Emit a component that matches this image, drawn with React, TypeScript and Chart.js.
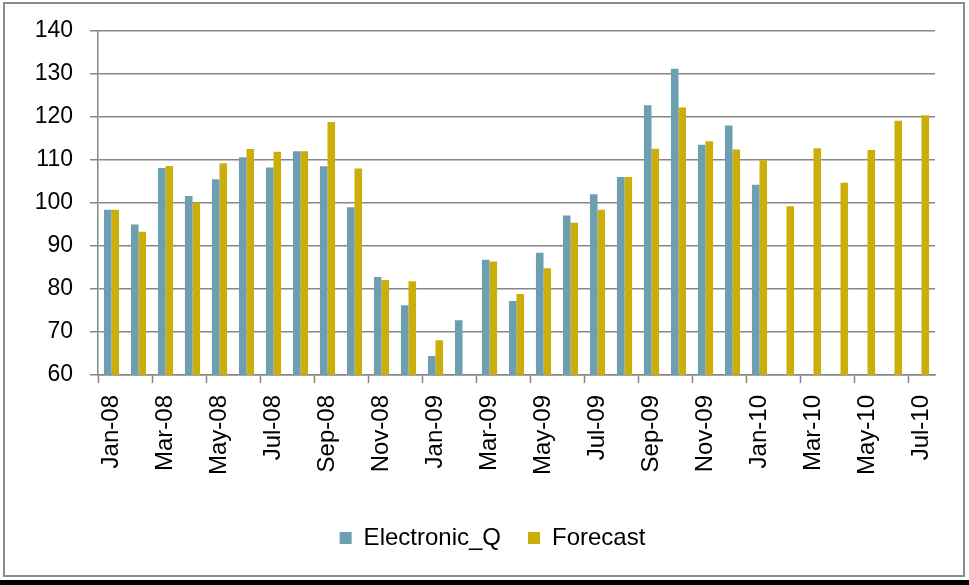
import React, { useEffect, useRef } from 'react';
import { Chart, registerables } from 'chart.js';
Chart.register(...registerables);

const months = [
  'Jan-08', 'Feb-08', 'Mar-08', 'Apr-08', 'May-08', 'Jun-08', 'Jul-08', 'Aug-08', 'Sep-08', 'Oct-08', 'Nov-08', 'Dec-08',
  'Jan-09', 'Feb-09', 'Mar-09', 'Apr-09', 'May-09', 'Jun-09', 'Jul-09', 'Aug-09', 'Sep-09', 'Oct-09', 'Nov-09', 'Dec-09',
  'Jan-10', 'Feb-10', 'Mar-10', 'Apr-10', 'May-10', 'Jun-10', 'Jul-10',
];

const electronicQ: (number | null)[] = [
  98.4, 95.0, 108.1, 101.6, 105.5, 110.6, 108.2, 112.0, 108.5, 99.0, 82.8, 76.2,
  64.4, 72.7, 86.8, 77.2, 88.4, 97.1, 102.0, 106.0, 122.7, 131.2, 113.5, 118.0,
  104.2, null, null, null, null, null, null,
];

const forecast: number[] = [
  98.4, 93.3, 108.6, 100.1, 109.2, 112.5, 111.9, 112.0, 118.8, 108.0, 82.1, 81.8,
  68.1, 59.6, 86.4, 78.8, 84.8, 95.4, 98.4, 106.0, 112.6, 122.2, 114.3, 112.4,
  109.9, 99.2, 112.7, 104.7, 112.3, 119.1, 120.4,
];

const yMin = 60;
const yMax = 140;
const yStep = 10;

const FONT = 'Liberation Sans';
const GRID = '#878787';

const legendShift = {
  id: 'legendShift',
  afterLayout(chart: any) {
    const lg = chart.legend;
    if (lg) {
      lg.left += 25;
      lg.right += 25;
    }
  },
};

export default function App() {
  const ref = useRef<HTMLCanvasElement>(null);
  useEffect(() => {
    if (!ref.current) return;
    const chart = new Chart(ref.current, {
      type: 'bar',
      data: {
        labels: months,
        datasets: [
          { label: 'Electronic_Q', data: electronicQ, backgroundColor: '#6E9FB0', borderWidth: 0 },
          { label: 'Forecast', data: forecast, backgroundColor: '#CCAE0B', borderWidth: 0 },
        ],
      },
      plugins: [legendShift],
      options: {
        responsive: false,
        animation: false,
        devicePixelRatio: 1,
        layout: { padding: { left: 0, right: 34, top: 30, bottom: 25 } },
        datasets: { bar: { barPercentage: 1, categoryPercentage: 0.56 } },
        plugins: {
          tooltip: { enabled: false },
          legend: {
            position: 'bottom',
            labels: {
              font: { family: FONT, size: 24 },
              color: '#000',
              boxWidth: 12,
              boxHeight: 12,
              padding: 27,
            },
          },
        },
        scales: {
          x: {
            afterFit: (s: any) => { s.height = 124; },
            grid: {
              drawOnChartArea: false,
              drawTicks: true,
              tickLength: 8,
              tickWidth: 1.5,
              tickColor: (ctx: any) => (ctx.index % 2 === 0 ? GRID : 'rgba(0,0,0,0)'),
              offset: true,
            },
            border: { display: true, color: GRID, width: 1.5 },
            ticks: {
              autoSkip: false,
              minRotation: 90,
              maxRotation: 90,
              padding: 12,
              color: '#000',
              font: { family: FONT, size: 24 },
              callback: (_v: any, i: number) => (i % 2 === 0 ? months[i] : ''),
            },
          },
          y: {
            min: yMin,
            max: yMax,
            afterFit: (s: any) => { s.width = 98; },
            grid: { color: GRID, lineWidth: 1.5, tickLength: 8, drawTicks: true },
            border: { display: true, color: GRID, width: 1.5 },
            ticks: {
              stepSize: yStep,
              padding: 17,
              color: '#000',
              font: { family: FONT, size: 23 },
            },
          },
        },
      },
    });
    return () => chart.destroy();
  }, []);

  return (
    <div style={{ position: 'absolute', left: 0, top: 0, width: 969, height: 585, background: '#fff' }}>
      <canvas ref={ref} width={969} height={585} style={{ position: 'absolute', left: 0, top: 0, width: 969, height: 585 }} />
      <div style={{ position: 'absolute', left: 3, top: 2, width: 962, height: 575, border: '2px solid #8c8c8c', boxSizing: 'border-box', pointerEvents: 'none' }} />
      <div style={{ position: 'absolute', left: 0, top: 580, width: 969, height: 5, background: '#000' }} />
    </div>
  );
}
